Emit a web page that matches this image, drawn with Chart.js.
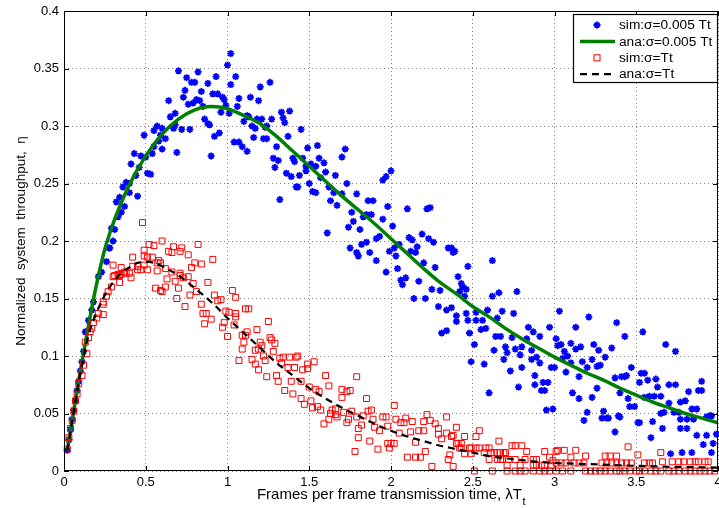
<!DOCTYPE html>
<html><head><meta charset="utf-8">
<script src="https://cdn.jsdelivr.net/npm/chart.js@4.4.1/dist/chart.umd.min.js"></script>
<style>html,body{margin:0;padding:0;background:#fff;}#wrap{width:719px;height:508px;}</style>
</head><body><div id="wrap"><canvas id="c" width="719" height="508"></canvas></div>
<script>
const xTickValues = [0,0.5,1,1.5,2,2.5,3,3.5,4];
const xTickLabels = ['0','0.5','1','1.5','2','2.5','3','3.5','4'];
const yTickValues = [0,0.05,0.1,0.15,0.2,0.25,0.3,0.35,0.4];
const yTickLabels = ['0','0.05','0.1','0.15','0.2','0.25','0.3','0.35','0.4'];
const seriesLabels = ['sim:σ=0.005 Tt','ana:σ=0.005 Tt','sim:σ=Tt','ana:σ=Tt'];
const xTitle = 'Frames per frame transmission time, λT';
const xTitleSub = 't';
const yTitle = 'Normalized  system  throughput,  η';

const anaNarrowX = [0.02,0.05,0.1,0.15,0.2,0.25,0.3,0.35,0.4,0.5,0.6,0.7,0.8,0.9,1.0,1.1,1.2,1.3,1.4,1.5,1.6,1.7,1.8,1.9,2.0,2.1,2.2,2.3,2.4,2.5,2.6,2.7,2.8,2.9,3.0,3.1,3.2,3.3,3.4,3.5,3.6,3.7,3.8,3.9,4.0];
const anaNarrowY = [0.018,0.044,0.087,0.127,0.163,0.193,0.215,0.233,0.249,0.274,0.293,0.306,0.314,0.317,0.315,0.309,0.302,0.291,0.278,0.265,0.252,0.239,0.227,0.215,0.202,0.189,0.176,0.164,0.154,0.143,0.134,0.124,0.115,0.107,0.099,0.092,0.085,0.079,0.072,0.066,0.060,0.055,0.050,0.046,0.042];

const anaWideX = [0.02,0.05,0.1,0.15,0.2,0.25,0.3,0.35,0.4,0.45,0.5,0.55,0.6,0.7,0.8,0.9,1.0,1.1,1.2,1.3,1.4,1.5,1.6,1.7,1.8,1.9,2.0,2.1,2.2,2.3,2.4,2.5,2.6,2.7,2.8,2.9,3.0,3.2,3.4,3.6,3.8,4.0];
const anaWideY = [0.018,0.043,0.085,0.118,0.138,0.153,0.164,0.172,0.177,0.181,0.182,0.181,0.178,0.170,0.159,0.147,0.133,0.120,0.107,0.094,0.083,0.072,0.063,0.055,0.048,0.041,0.035,0.030,0.026,0.022,0.019,0.016,0.013,0.011,0.0095,0.008,0.007,0.006,0.005,0.004,0.0035,0.003];

const simNarrow = [
[0.02,0.018],[0.03,0.027],[0.04,0.036],[0.05,0.045],[0.06,0.053],[0.07,0.061],[0.08,0.070],[0.09,0.078],[0.10,0.087],[0.11,0.095],[0.12,0.104],[0.13,0.121],[0.15,0.131],[0.17,0.140],[0.18,0.147],[0.21,0.169],[0.23,0.173],[0.26,0.182],[0.275,0.194],[0.29,0.211],[0.31,0.210],[0.34,0.225],
[1.02,0.363],[1.00,0.353],[1.05,0.343],[1.02,0.336],[0.70,0.348],[0.82,0.347],[0.75,0.342],[0.93,0.343],[0.78,0.338],[0.80,0.338],[0.88,0.337],[0.74,0.331],[0.84,0.330],[0.91,0.328],[0.94,0.328],[0.73,0.325],[0.97,0.325],[0.98,0.323],[0.81,0.323],[0.83,0.322],[1.07,0.324],[0.64,0.322],[0.76,0.319],[0.79,0.320],[0.99,0.318],[0.85,0.317],[1.06,0.317],[0.68,0.311],[0.65,0.308],[0.96,0.312],[1.01,0.311],[0.86,0.306],[0.88,0.302],[0.89,0.301],[0.57,0.300],[0.68,0.301],[0.60,0.298],[0.67,0.298],[0.72,0.297],[0.77,0.297],[0.55,0.296],[0.49,0.292],[0.92,0.291],[0.95,0.294],[0.59,0.292],[0.62,0.289],[0.58,0.287],[0.60,0.280],[0.55,0.282],[1.04,0.286],[1.07,0.286],[0.69,0.277],[0.90,0.274],[0.43,0.276],[0.54,0.276],[0.47,0.274],[0.50,0.273],[0.41,0.267],[0.46,0.264],[0.51,0.259],[0.53,0.258],[0.44,0.257],[0.38,0.251],[0.40,0.250],[0.36,0.247],[0.40,0.242],[0.45,0.239],[0.34,0.238],[0.32,0.234],[0.37,0.230],[0.35,0.225],[0.33,0.221],[0.30,0.200],[0.28,0.194],
[1.26,0.338],[1.20,0.334],[1.14,0.325],[1.19,0.322],[1.33,0.312],[1.38,0.313],[1.12,0.309],[1.13,0.308],[1.10,0.304],[1.18,0.306],[1.21,0.306],[1.27,0.306],[1.34,0.307],[1.35,0.303],[1.15,0.300],[1.17,0.298],[1.24,0.300],[1.23,0.299],[1.45,0.297],[1.16,0.290],[1.22,0.289],[1.24,0.289],[1.37,0.291],[1.09,0.282],[1.12,0.278],[1.30,0.282],[1.49,0.281],[1.55,0.283],[1.72,0.280],[1.28,0.272],[1.31,0.270],[1.40,0.272],[1.41,0.269],[1.46,0.272],[1.56,0.272],[1.70,0.273],[1.59,0.268],[1.29,0.264],[1.48,0.265],[1.51,0.267],[1.54,0.265],[1.48,0.261],[1.36,0.259],[1.39,0.256],[1.44,0.257],[1.60,0.260],[1.57,0.255],[1.66,0.257],[1.95,0.253],[1.97,0.256],[2.00,0.261],[1.50,0.250],[1.73,0.250],[1.42,0.247],[1.43,0.247],[1.62,0.247],[1.52,0.243],[1.54,0.242],[1.65,0.242],[1.79,0.241],[1.70,0.241],[1.32,0.236],[1.63,0.235],[1.86,0.235],[1.89,0.235],[1.67,0.231],[1.98,0.230],[2.10,0.228],[2.22,0.228],[2.24,0.229],[1.76,0.225],[1.83,0.221],[1.85,0.223],[1.88,0.223],[1.95,0.219],[1.77,0.217],[2.01,0.213],[1.74,0.212],[1.81,0.210],[1.61,0.207],[2.19,0.206],[2.11,0.203],[2.13,0.201],[2.23,0.202],[2.26,0.199],[1.91,0.202],[1.93,0.204],[1.85,0.199],[1.82,0.197],[2.16,0.195],[2.35,0.194],[2.37,0.194],[1.75,0.194],[2.02,0.194],
[2.05,0.197],[2.12,0.191],[1.99,0.191],[2.03,0.187],[2.39,0.191],[2.04,0.176],[2.42,0.156],[2.45,0.152],[2.51,0.110],[2.86,0.097],[2.73,0.087],[2.88,0.083],
[1.79,0.190],[1.80,0.187],[1.87,0.190],[1.91,0.183],[1.97,0.173],[2.06,0.166],[2.07,0.162],[2.09,0.168],[2.17,0.165],[2.15,0.190],[2.27,0.177],[2.20,0.181],[2.25,0.158],[2.30,0.157],[2.14,0.150],[2.21,0.150],[2.38,0.190],[2.47,0.178],[2.41,0.169],[2.43,0.163],[2.44,0.160],[2.46,0.158],[2.29,0.143],[2.34,0.140],[2.37,0.142],[2.40,0.135],[2.40,0.130],[2.46,0.137],[2.47,0.131],[2.31,0.120],[2.34,0.122],[2.48,0.120],[2.49,0.095],[2.52,0.138],[2.52,0.131],
[2.62,0.183],[2.62,0.152],[2.66,0.155],[2.77,0.156],[2.59,0.140],[2.56,0.131],[2.55,0.123],[2.58,0.124],[2.65,0.133],[2.68,0.139],[2.75,0.137],[2.64,0.117],[2.67,0.117],[2.63,0.105],[2.74,0.116],[2.70,0.108],[2.71,0.103],[2.76,0.106],[2.80,0.108],[2.69,0.097],[2.57,0.093],[2.80,0.090],[2.79,0.101],[2.83,0.115],[2.84,0.125],[2.87,0.121],[2.91,0.117],[2.86,0.105],[2.89,0.099],[2.91,0.094],[2.97,0.125],[2.78,0.073],[2.60,0.068],[2.88,0.075],[2.93,0.077],[2.96,0.077],[2.92,0.070],[2.94,0.070],[2.95,0.053],[2.99,0.054],[2.98,0.090],[3.00,0.090],[3.03,0.139],[3.01,0.115],[3.02,0.109],[3.04,0.110],[3.06,0.104],[3.08,0.100],[3.05,0.098],[3.10,0.111],[3.13,0.106],[3.13,0.125],[3.07,0.086],[3.10,0.094],[3.15,0.082],[3.16,0.108],[3.17,0.095],[3.20,0.090],[3.21,0.134],[3.23,0.097],[3.24,0.110],[3.27,0.105],[3.26,0.091],[3.28,0.092],[3.31,0.099],[3.35,0.107],[3.11,0.068],[3.23,0.064],[3.26,0.072],[3.20,0.051],[3.18,0.044],[3.30,0.052],[3.29,0.046],[3.33,0.046],[3.38,0.129],[3.43,0.117],[3.37,0.081],[3.41,0.082],[3.43,0.082],[3.44,0.083],[3.47,0.090],[3.40,0.068],[3.46,0.056],[3.49,0.056],[3.45,0.063],[3.39,0.048],[3.37,0.034],[3.52,0.042],[3.54,0.121],[3.53,0.085],[3.55,0.085],[3.52,0.077],[3.57,0.079],[3.62,0.080],[3.55,0.064],[3.58,0.065],[3.61,0.065],[3.63,0.073],[3.65,0.065],[3.68,0.110],[3.74,0.104],[3.65,0.050],[3.67,0.051],[3.60,0.043],[3.66,0.037],[3.59,0.029],[3.70,0.075],[3.74,0.075],[3.70,0.059],[3.73,0.051],[3.76,0.051],[3.77,0.037],[3.71,0.015],[3.78,0.016],[3.84,0.016],[3.77,0.060],[3.80,0.061],[3.82,0.069],[3.88,0.070],[3.90,0.070],[3.90,0.078],[3.84,0.054],[3.87,0.054],[3.77,0.045],[3.81,0.045],[3.85,0.045],[3.93,0.047],[3.95,0.048],[3.96,0.048],[3.87,0.031],[3.93,0.031],[3.99,0.032],[3.91,0.023],[3.97,0.024],[3.81,0.037],[3.15,0.063],[3.32,0.046],[3.40,0.047],[3.51,0.042],[3.96,0.016]
];

const simWide = [
[0.02,0.019],[0.03,0.029],[0.04,0.037],[0.05,0.044],[0.06,0.052],[0.07,0.061],[0.08,0.067],[0.09,0.076],[0.11,0.083],[0.12,0.092],[0.14,0.102],[0.13,0.112],[0.15,0.116],[0.16,0.121],[0.17,0.124],[0.18,0.129],[0.20,0.133],[0.21,0.137],[0.24,0.136],[0.24,0.147],[0.24,0.145],[0.26,0.152],[0.27,0.156],[0.29,0.160],[0.30,0.179],[0.34,0.170],
[0.48,0.216],[0.52,0.197],[0.55,0.196],[0.60,0.200],[0.67,0.195],[0.72,0.194],[0.82,0.197],[0.49,0.192],[0.64,0.191],[0.66,0.190],[0.71,0.191],[0.49,0.187],[0.51,0.186],[0.42,0.186],[0.54,0.186],[0.76,0.188],[0.91,0.184],[0.80,0.181],[0.84,0.180],[0.58,0.183],[0.57,0.181],[0.59,0.181],[0.78,0.177],[0.49,0.179],[0.45,0.178],[0.42,0.178],[0.35,0.177],[0.51,0.175],[0.45,0.175],[0.47,0.175],[0.57,0.174],[0.62,0.176],[0.66,0.173],[0.38,0.172],[0.40,0.172],[0.37,0.173],[0.35,0.171],[0.33,0.171],[0.71,0.172],[0.71,0.170],[0.73,0.168],[0.76,0.169],[0.31,0.170],[0.30,0.169],[0.41,0.168],[0.63,0.167],[0.68,0.165],[0.79,0.163],[0.34,0.164],[0.88,0.164],[0.56,0.159],[0.59,0.157],[0.62,0.160],[0.70,0.159],[1.03,0.157],[0.77,0.153],[0.69,0.150],[0.92,0.153],[0.94,0.148],[0.96,0.149],[0.74,0.143],[0.84,0.145],[0.99,0.139],[1.01,0.138],[0.85,0.137],[0.87,0.137],[0.90,0.132],[0.98,0.129],[0.97,0.125],[0.86,0.128],[1.04,0.127],[1.00,0.117],[0.60,0.156],[0.81,0.156],
[1.05,0.151],[1.05,0.137],[1.11,0.141],[1.13,0.141],[1.25,0.130],[1.05,0.134],[1.09,0.118],[1.11,0.118],[1.12,0.121],[1.18,0.123],[1.26,0.116],[1.27,0.114],[1.29,0.111],[1.10,0.112],[1.20,0.112],[1.21,0.109],[1.17,0.105],[1.19,0.106],[1.09,0.106],[1.28,0.104],[1.22,0.100],[1.23,0.096],[1.07,0.096],[1.15,0.097],[1.17,0.093],[1.19,0.088],[1.32,0.098],[1.34,0.099],[1.38,0.099],[1.42,0.099],[1.43,0.100],[1.33,0.094],[1.37,0.090],[1.41,0.090],[1.46,0.088],[1.49,0.089],[1.49,0.093],[1.53,0.095],[1.30,0.083],[1.24,0.082],[1.31,0.078],[1.39,0.078],[1.45,0.078],[1.60,0.083],[1.79,0.082],[1.35,0.070],[1.62,0.074],[1.50,0.073],[1.54,0.071],[1.56,0.069],[1.40,0.067],[1.70,0.071],[1.73,0.069],[1.75,0.070],[1.45,0.063],[1.51,0.061],[1.70,0.064],[1.85,0.063],[1.47,0.058],[1.52,0.055],[1.55,0.056],[1.64,0.053],[1.66,0.054],[1.57,0.053],[1.63,0.050],[1.66,0.049],[1.67,0.047],[1.71,0.051],[1.76,0.052],[1.62,0.045],[1.59,0.041],[1.74,0.045],[1.79,0.047],[1.73,0.042],[1.86,0.052],[1.88,0.053],[1.83,0.048],[1.89,0.045],[1.95,0.047],[1.97,0.047],[1.82,0.040],[1.80,0.037],[1.90,0.038],[1.93,0.035],[2.02,0.057],[2.03,0.045],[2.05,0.033],[1.98,0.039],[1.80,0.029],[1.87,0.026],[1.92,0.019],[1.78,0.017],[1.98,0.024],[2.00,0.024],[2.02,0.024],[1.99,0.020],
[2.06,0.042],[2.08,0.042],[2.09,0.046],[2.13,0.043],[2.10,0.012],[2.15,0.012],[2.18,0.012],[2.12,0.034],[2.15,0.025],[2.17,0.035],[2.20,0.035],[2.20,0.043],[2.22,0.049],[2.24,0.044],[2.25,0.004],[2.21,0.017],[2.27,0.041],[2.29,0.037],[2.29,0.032],[2.31,0.028],[2.34,0.047],[2.34,0.033],[2.37,0.030],[2.38,0.031],[2.36,0.014],[2.35,0.010],[2.38,0.004],[2.40,0.038],[2.40,0.024],[2.41,0.024],[2.43,0.024],[2.42,0.020],[2.43,0.020],[2.45,0.030],[2.45,0.015],[2.48,0.020],[2.49,0.020],[2.49,0.015],[2.52,0.020],[2.54,0.020],[2.51,0.000],[2.52,0.030],[2.54,0.035],[2.57,0.016],[2.60,0.010],[2.61,0.016],[2.58,0.020],[2.60,0.020],[2.62,0.000],[2.63,0.016],[2.65,0.016],[2.67,0.016],[2.65,0.010],[2.67,0.010],[2.68,0.010],[2.69,0.016],[2.70,0.016],[2.66,0.026],[2.71,0.005],[2.71,0.000],[2.76,0.000],[2.72,0.010],[2.74,0.022],[2.76,0.022],[2.76,0.010],[2.79,0.005],[2.80,0.022],[2.82,0.010],[2.79,0.000],[2.82,0.000],[2.83,0.017],[2.87,0.010],[2.89,0.010],[2.87,0.005],[2.89,0.005],[2.87,0.000],[2.91,0.000],[2.94,0.000],[2.97,0.000],[2.92,0.005],[2.94,0.005],[2.94,0.017],[2.97,0.012],[2.99,0.009],[3.01,0.017],[2.98,0.005],
[3.02,0.018],[3.06,0.018],[3.13,0.018],[3.10,0.012],[3.04,0.007],[3.07,0.007],[3.12,0.007],[3.15,0.007],[3.18,0.007],[3.19,0.013],[3.29,0.007],[3.32,0.007],[3.35,0.007],[3.38,0.007],[3.41,0.007],[3.44,0.007],[3.47,0.007],[3.31,0.013],[3.34,0.013],[3.45,0.021],[3.38,0.013],[3.51,0.014],[3.55,0.007],[3.58,0.007],[3.60,0.007],[3.65,0.016],[3.66,0.008],[3.72,0.008],[3.76,0.008],[3.79,0.008],[3.83,0.008],[3.86,0.008],[3.88,0.008],[3.92,0.008],[3.94,0.008],[3.01,0.007],
[3.01,0],[3.05,0],[3.10,0],[3.19,0],[3.22,0],[3.25,0],[3.28,0],[3.31,0],[3.34,0],[3.38,0],[3.40,0],[3.43,0],[3.46,0],[3.50,0],[3.52,0],[3.55,0],[3.59,0],[3.62,0],[3.65,0],[3.70,0],[3.73,0],[3.76,0],[3.80,0],[3.83,0],[3.86,0],[3.89,0],[3.92,0],[3.95,0],[3.98,0]
];

const FONT = '"Liberation Sans", Arial, Helvetica, sans-serif';
const toXY = (xs, ys) => xs.map((x, i) => ({x, y: ys[i]}));
const toPts = arr => arr.map(([x, y]) => ({x, y}));

function drawMarker(ctx, kind, cx, cy) {
  ctx.save();
  if (kind === 'star') {
    ctx.strokeStyle = '#0000ff'; ctx.lineWidth = 1.8;
    const r = 3.5, d = r * Math.SQRT1_2;
    ctx.beginPath();
    ctx.moveTo(cx - r, cy); ctx.lineTo(cx + r, cy);
    ctx.moveTo(cx, cy - r); ctx.lineTo(cx, cy + r);
    ctx.moveTo(cx - d, cy - d); ctx.lineTo(cx + d, cy + d);
    ctx.moveTo(cx - d, cy + d); ctx.lineTo(cx + d, cy - d);
    ctx.stroke();
  } else {
    ctx.strokeStyle = '#ff0000'; ctx.lineWidth = 1;
    ctx.strokeRect(cx - 3, cy - 3, 6, 6);
  }
  ctx.restore();
}

const decorPlugin = {
  id: 'decor',
  afterDatasetsDraw(chart) {
    const {ctx, chartArea: a, scales: {x, y}} = chart;
    ctx.save();
    ctx.strokeStyle = '#000'; ctx.lineWidth = 1;
    ctx.strokeRect(a.left + 0.5, a.top + 0.5, a.right - a.left - 1, a.bottom - a.top - 1);
    const tl = 5;
    ctx.beginPath();
    xTickValues.forEach(v => {
      const px = Math.round(x.getPixelForValue(v)) + 0.5;
      ctx.moveTo(px, a.bottom); ctx.lineTo(px, a.bottom - tl);
      ctx.moveTo(px, a.top); ctx.lineTo(px, a.top + tl);
    });
    yTickValues.forEach(v => {
      const py = Math.round(y.getPixelForValue(v)) + 0.5;
      ctx.moveTo(a.left, py); ctx.lineTo(a.left + tl, py);
      ctx.moveTo(a.right, py); ctx.lineTo(a.right - tl, py);
    });
    ctx.stroke();

    // legend
    const lw = 145, lh = 69;
    const bx = a.right - lw, by = a.top + 3;
    ctx.fillStyle = '#fff';
    ctx.fillRect(bx, by, lw, lh);
    ctx.lineWidth = 1.2; ctx.strokeStyle = '#000';
    ctx.strokeRect(bx + 0.5, by + 0.5, lw - 1, lh - 1);
    ctx.font = '13.7px ' + FONT;
    ctx.textBaseline = 'middle'; ctx.textAlign = 'left';
    chart.data.datasets.forEach((ds, i) => {
      const ry = by + 11 + i * 16.4;
      const sx = bx + 24;
      if (ds.legendKind === 'star' || ds.legendKind === 'rect') {
        drawMarker(ctx, ds.legendKind, sx, ry);
      } else {
        ctx.save();
        ctx.strokeStyle = ds.borderColor; ctx.lineWidth = ds.borderWidth;
        ctx.setLineDash(ds.borderDash || []);
        ctx.beginPath(); ctx.moveTo(bx + 7, ry); ctx.lineTo(bx + 42, ry); ctx.stroke();
        ctx.restore();
      }
      ctx.fillStyle = '#000';
      ctx.fillText(ds.label, bx + 46, ry + 0.5);
    });

    // axis titles
    ctx.fillStyle = '#000';
    ctx.textBaseline = 'alphabetic'; ctx.textAlign = 'left';
    ctx.font = '15px ' + FONT;
    const wMain = ctx.measureText(xTitle).width;
    ctx.font = '11px ' + FONT;
    const wSub = ctx.measureText(xTitleSub).width;
    const cx = (a.left + a.right) / 2;
    const x0 = cx - (wMain + wSub) / 2;
    ctx.font = '15px ' + FONT;
    ctx.fillText(xTitle, x0, 499);
    ctx.font = '11px ' + FONT;
    ctx.fillText(xTitleSub, x0 + wMain + 0.5, 505);

    ctx.translate(25, (a.top + a.bottom) / 2);
    ctx.rotate(-Math.PI / 2);
    ctx.textAlign = 'center';
    ctx.font = '13.5px ' + FONT;
    ctx.fillText(yTitle, 0, 0);
    ctx.restore();
  }
};

new Chart(document.getElementById('c'), {
  type: 'scatter',
  data: {
    datasets: [
      {
        label: seriesLabels[0], legendKind: 'star', order: 4,
        data: toPts(simNarrow),
        pointStyle: 'star', pointRadius: 3.5, pointBorderWidth: 1.8,
        pointBorderColor: '#0000ff', pointBackgroundColor: '#0000ff',
        borderColor: '#0000ff', backgroundColor: '#0000ff', clip: false
      },
      {
        label: seriesLabels[1], legendKind: 'line', order: 3,
        data: toXY(anaNarrowX, anaNarrowY),
        showLine: true, pointRadius: 0, borderColor: '#008000', borderWidth: 3.5,
        cubicInterpolationMode: 'monotone', fill: false
      },
      {
        label: seriesLabels[2], legendKind: 'rect', order: 2,
        data: toPts(simWide),
        pointStyle: 'rect', pointRadius: 4.2, pointBorderWidth: 1,
        pointBorderColor: '#ff0000', pointBackgroundColor: 'rgba(0,0,0,0)',
        borderColor: '#ff0000', backgroundColor: 'rgba(0,0,0,0)', clip: false
      },
      {
        label: seriesLabels[3], legendKind: 'line', order: 1,
        data: toXY(anaWideX, anaWideY),
        showLine: true, pointRadius: 0, borderColor: '#000000', borderWidth: 2.2,
        borderDash: [7, 5], cubicInterpolationMode: 'monotone', fill: false
      }
    ]
  },
  options: {
    responsive: false, animation: false, devicePixelRatio: 1, events: [],
    layout: { padding: { left: 0, right: 1, top: 11, bottom: 0 }, autoPadding: false },
    plugins: { legend: { display: false }, tooltip: { enabled: false }, title: { display: false } },
    scales: {
      x: {
        type: 'linear', min: 0, max: 4,
        afterFit: s => { s.height = 37; s.paddingLeft = 0; s.paddingRight = 0; },
        afterBuildTicks: s => { s.ticks = xTickValues.map(v => ({ value: v })); },
        ticks: { callback: (v, i) => xTickLabels[i], color: '#000', padding: 4, maxRotation: 0, autoSkip: false, font: { size: 13, family: FONT } },
        grid: { color: 'rgba(0,0,0,0.5)', lineWidth: 1, drawTicks: false },
        border: { display: false, dash: [1, 3] }
      },
      y: {
        type: 'linear', min: 0, max: 0.4,
        afterFit: s => { s.width = 64; s.paddingTop = 0; s.paddingBottom = 0; },
        afterBuildTicks: s => { s.ticks = yTickValues.map(v => ({ value: v })); },
        ticks: { callback: (v, i) => yTickLabels[i], color: '#000', padding: 5, autoSkip: false, font: { size: 13, family: FONT } },
        grid: { color: 'rgba(0,0,0,0.5)', lineWidth: 1, drawTicks: false },
        border: { display: false, dash: [1, 3] }
      }
    }
  },
  plugins: [decorPlugin]
});
</script>
</body></html>
